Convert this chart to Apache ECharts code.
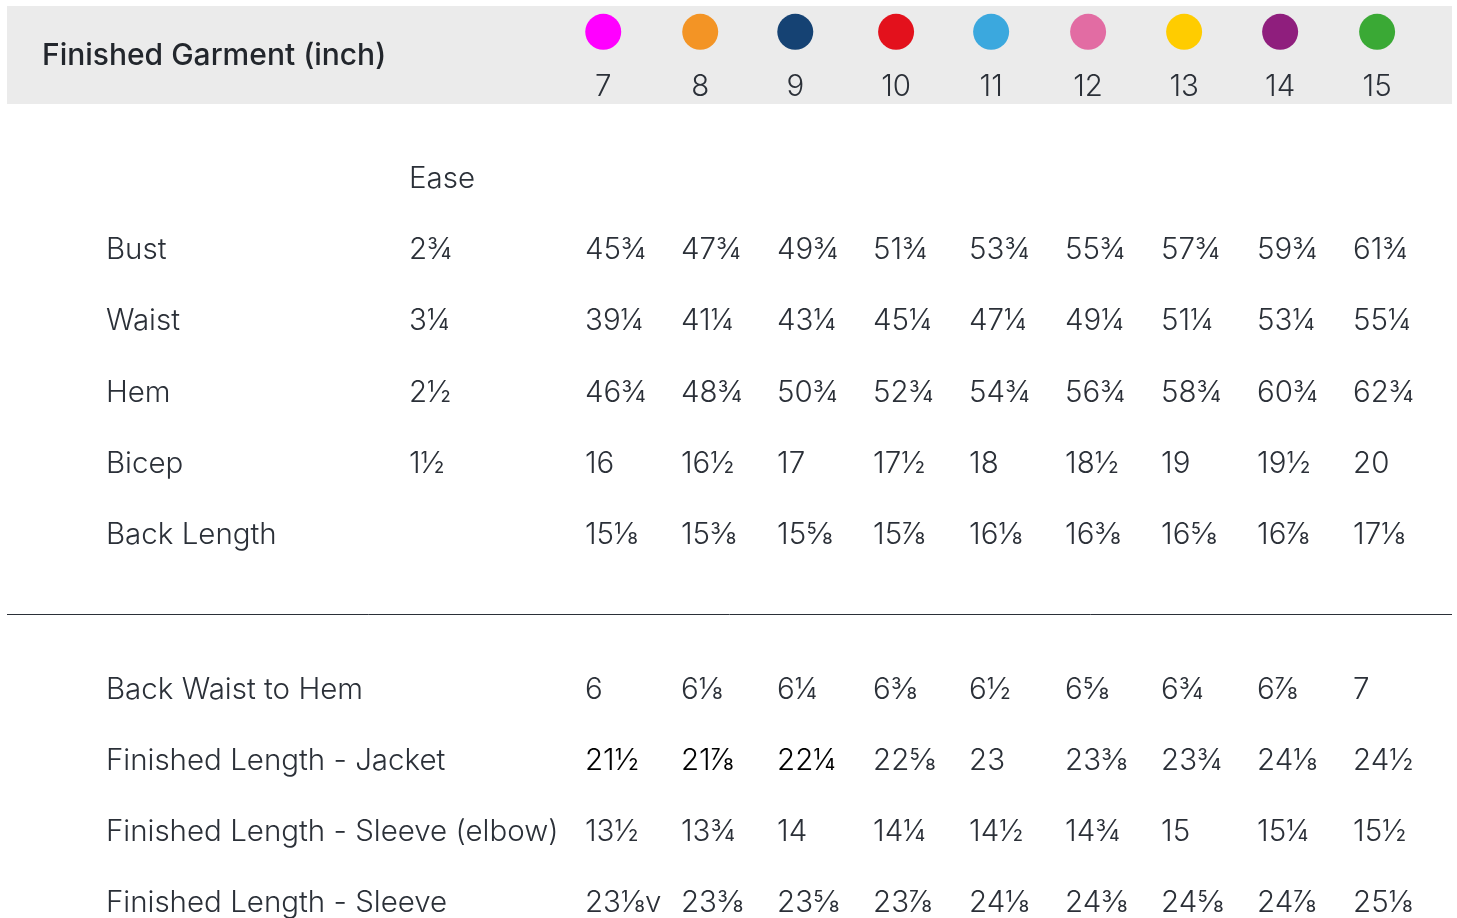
<!DOCTYPE html>
<html>
<head>
<meta charset="utf-8">
<script src="https://cdn.jsdelivr.net/npm/echarts@6/dist/echarts.min.js"></script>
<style>
html,body{margin:0;padding:0;background:#fff;}
#chart{width:1457px;height:918px;}
</style>
</head>
<body>
<div id="chart"></div>
<script>
// ---- data ----
const title = 'Finished Garment (inch)';
const sizes = ['7','8','9','10','11','12','13','14','15'];
const sizeColors = ['#ff00ff','#f39425','#154273','#e3111c','#3ba8de','#e26ca3','#ffcc00','#8f1e7d','#3aa935'];
const easeHeader = 'Ease';
const rowNames = ['Bust','Waist','Hem','Bicep','Back Length','Back Waist to Hem','Finished Length - Jacket','Finished Length - Sleeve (elbow)','Finished Length - Sleeve'];
const easeValues = ['2¾','3¼','2½','1½','','','','',''];
const bust = ['45¾','47¾','49¾','51¾','53¾','55¾','57¾','59¾','61¾'];
const waist = ['39¼','41¼','43¼','45¼','47¼','49¼','51¼','53¼','55¼'];
const hem = ['46¾','48¾','50¾','52¾','54¾','56¾','58¾','60¾','62¾'];
const bicep = ['16','16½','17','17½','18','18½','19','19½','20'];
const backLength = ['15⅛','15⅜','15⅝','15⅞','16⅛','16⅜','16⅝','16⅞','17⅛'];
const backWaistToHem = ['6','6⅛','6¼','6⅜','6½','6⅝','6¾','6⅞','7'];
const lengthJacket = ['21½','21⅞','22¼','22⅝','23','23⅜','23¾','24⅛','24½'];
const lengthSleeveElbow = ['13½','13¾','14','14¼','14½','14¾','15','15¼','15½'];
const lengthSleeve = ['23⅛v','23⅜','23⅝','23⅞','24⅛','24⅜','24⅝','24⅞','25⅛'];
const tableRows = [bust, waist, hem, bicep, backLength, backWaistToHem, lengthJacket, lengthSleeveElbow, lengthSleeve];

// ---- layout (axis units: columns / rows) ----
const rowY = [1.015, 2.015, 3.025, 4.025, 5.025, 7.205, 8.205, 9.205, 10.205];
const easeRowY = 0.015;
const colX = [0,1,2,3,4,5,6,7,8];
const headerX = [0.19,1.20,2.19,3.24,4.23,5.24,6.24,7.24,8.25];
const labelX = -4.99, easeX = -1.833, titleX = -5.656;
const titleY = -1.71, circleY = -2.056, headerNumY = -1.28;
const bandTop = -2.42, bandBottom = -1.042, dividerY = 6.138;
const xMin = -6.02, xMax = 9.03, yMin = -2.42, yMax = 10.42;

const FONT = 'Inter';
const TEXT = '#2b3038';
const BODY_SIZE = 29.5;
const BODY_WEIGHT = 350;

const leftLabel = (size, color, weight) => ({
  show: true, position: 'right', distance: 0, align: 'left', verticalAlign: 'middle',
  fontFamily: FONT, fontSize: size, color: color || TEXT, fontWeight: weight || BODY_WEIGHT,
  formatter: p => p.data.name
});

const cellData = [];
tableRows.forEach((vals, r) => {
  vals.forEach((v, c) => {
    const item = { name: v, value: [colX[c], rowY[r]] };
    if (r === 6 && c < 3) item.label = { color: '#000000' };
    cellData.push(item);
  });
});

const solid = { opacity: 1 };

const option = {
  animation: false,
  backgroundColor: '#ffffff',
  grid: { left: 7, right: 5, top: 6, bottom: 0, containLabel: false },
  xAxis: { type: 'value', min: xMin, max: xMax, show: false },
  yAxis: { type: 'value', min: yMin, max: yMax, inverse: true, show: false },
  series: [
    {
      type: 'scatter', symbolSize: 0, silent: true, z: 1,
      data: [],
      markArea: {
        silent: true,
        itemStyle: { color: '#ebebeb', opacity: 1 },
        data: [[{ coord: [xMin, bandTop] }, { coord: [xMax, bandBottom] }]]
      },
      markLine: {
        silent: true, symbol: 'none', label: { show: false },
        lineStyle: { color: '#2b3038', width: 1, type: 'solid', opacity: 1 },
        data: [{ yAxis: dividerY }]
      }
    },
    {
      type: 'scatter', symbolSize: 0, silent: true, z: 5, itemStyle: solid,
      data: [{ name: title, value: [titleX, titleY] }],
      label: leftLabel(30, '#22262c', 500)
    },
    {
      type: 'scatter', symbol: 'circle', symbolSize: 36, silent: true, z: 5,
      itemStyle: solid,
      data: sizes.map((s, i) => ({ name: s, value: [headerX[i], circleY], itemStyle: { color: sizeColors[i], opacity: 1 } }))
    },
    {
      type: 'scatter', symbolSize: 0, silent: true, z: 5, itemStyle: solid,
      data: sizes.map((s, i) => ({ name: s, value: [headerX[i], headerNumY] })),
      label: { show: true, position: 'inside', fontFamily: FONT, fontSize: BODY_SIZE, fontWeight: BODY_WEIGHT, color: TEXT, formatter: p => p.data.name }
    },
    {
      type: 'scatter', symbolSize: 0, silent: true, z: 5, itemStyle: solid,
      data: rowNames.map((n, i) => ({ name: n, value: [labelX, rowY[i]] })),
      label: leftLabel(BODY_SIZE)
    },
    {
      type: 'scatter', symbolSize: 0, silent: true, z: 5, itemStyle: solid,
      data: [{ name: easeHeader, value: [easeX, easeRowY] }].concat(
        easeValues.map((v, i) => ({ name: v, value: [easeX, rowY[i]] })).filter(d => d.name !== '')),
      label: leftLabel(BODY_SIZE)
    },
    {
      type: 'scatter', symbolSize: 0, silent: true, z: 5, itemStyle: solid,
      data: cellData,
      label: leftLabel(BODY_SIZE)
    }
  ]
};

const chart = echarts.init(document.getElementById('chart'), null, { renderer: 'canvas' });
chart.setOption(option);
</script>
</body>
</html>
